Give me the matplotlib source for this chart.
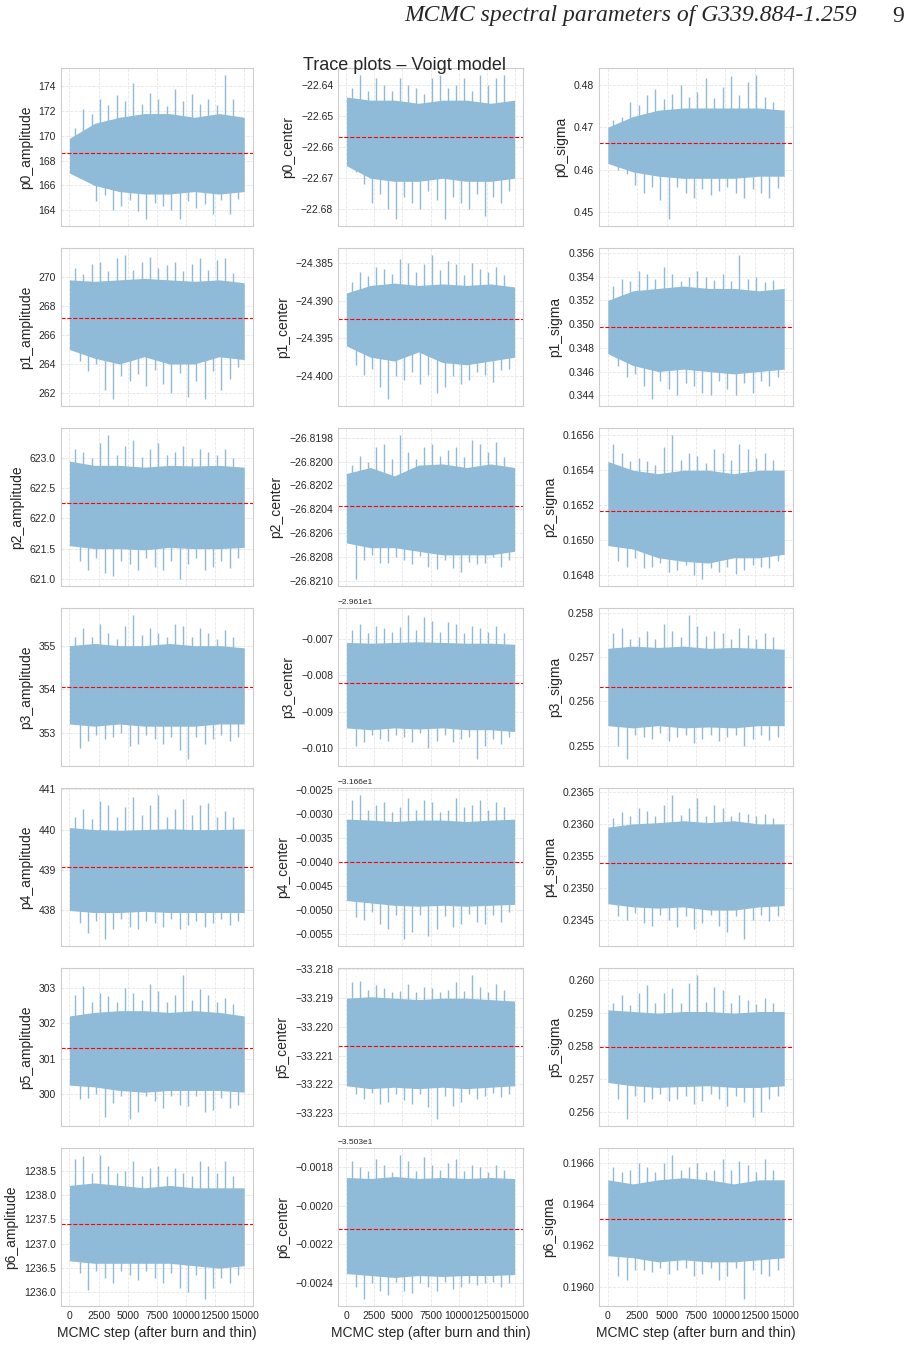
import numpy as np
import matplotlib
matplotlib.use("Agg")
import matplotlib.pyplot as plt
import seaborn as sns

n_steps = 15000
components = ["p0", "p1", "p2", "p3", "p4", "p5", "p6"]
params = ["amplitude", "center", "sigma"]

# mean = dashed line, top/bot = dense part of the chain, up/dn = spikes
p0_amplitude = dict(mean=168.6,
                    top=[169.8, 171.0, 171.5, 171.8, 171.8, 171.5, 171.8, 171.5],
                    bot=[167.0, 166.0, 165.5, 165.3, 165.3, 165.5, 165.3, 165.5],
                    up=[170.6, 172.2, 171.8, 173.0, 172.5, 173.3, 172.8, 174.3, 172.6, 173.5, 173.0, 172.4, 173.8, 172.8, 173.4, 172.6, 173.0, 172.5, 174.9, 173.0],
                    dn=[166.6, 166.5, 164.7, 165.2, 164.0, 164.3, 164.8, 163.9, 163.3, 164.6, 164.3, 164.0, 163.3, 164.7, 164.2, 164.5, 163.7, 164.8, 163.7, 164.9])
p0_center = dict(mean=-22.6569,
                 top=[-22.644, -22.645, -22.645, -22.646, -22.645, -22.645, -22.646, -22.645],
                 bot=[-22.666, -22.670, -22.671, -22.671, -22.670, -22.671, -22.671, -22.670],
                 up=[-22.641, -22.637, -22.642, -22.638, -22.640, -22.642, -22.638, -22.640, -22.641, -22.643, -22.638, -22.637, -22.641, -22.640, -22.638, -22.642, -22.637, -22.640, -22.638, -22.637],
                 dn=[-22.668, -22.672, -22.678, -22.675, -22.680, -22.683, -22.676, -22.678, -22.680, -22.674, -22.677, -22.683, -22.676, -22.678, -22.680, -22.675, -22.682, -22.676, -22.678, -22.674])
p0_sigma = dict(mean=0.4663,
                top=[0.4700, 0.4725, 0.4740, 0.4745, 0.4745, 0.4745, 0.4745, 0.4740],
                bot=[0.4615, 0.4595, 0.4585, 0.4580, 0.4580, 0.4580, 0.4585, 0.4585],
                up=[0.4718, 0.4725, 0.4760, 0.4752, 0.4775, 0.4790, 0.4765, 0.4778, 0.4800, 0.4770, 0.4782, 0.4815, 0.4768, 0.4795, 0.4820, 0.4775, 0.4805, 0.4822, 0.4770, 0.4760],
                dn=[0.4600, 0.4590, 0.4565, 0.4545, 0.4560, 0.4530, 0.4485, 0.4560, 0.4545, 0.4535, 0.4555, 0.4540, 0.4550, 0.4560, 0.4545, 0.4535, 0.4555, 0.4545, 0.4535, 0.4558])

p1_amplitude = dict(mean=267.16,
                    top=[269.8, 269.7, 269.8, 269.9, 269.8, 269.7, 269.8, 269.6],
                    bot=[265.0, 264.4, 264.0, 264.5, 264.0, 264.0, 264.5, 264.3],
                    up=[270.6, 270.2, 270.9, 271.0, 270.4, 271.3, 271.5, 270.5, 271.0, 271.4, 270.6, 270.8, 271.0, 270.4, 270.9, 271.3, 270.5, 271.2, 271.3, 270.3],
                    dn=[264.2, 263.5, 264.0, 262.2, 261.6, 263.2, 262.8, 263.3, 262.5, 263.6, 262.6, 262.0, 263.4, 261.7, 262.8, 261.6, 263.5, 262.2, 263.0, 263.8])
p1_center = dict(mean=-24.3925,
                 top=[-24.3890, -24.3880, -24.3877, -24.3880, -24.3878, -24.3880, -24.3878, -24.3882],
                 bot=[-24.3960, -24.3975, -24.3980, -24.3968, -24.3982, -24.3985, -24.3980, -24.3975],
                 up=[-24.3875, -24.3862, -24.3868, -24.3855, -24.3858, -24.3865, -24.3845, -24.3850, -24.3862, -24.3852, -24.3840, -24.3860, -24.3848, -24.3852, -24.3866, -24.3850, -24.3858, -24.3862, -24.3855, -24.3866],
                 dn=[-24.3985, -24.3998, -24.3990, -24.4015, -24.4030, -24.4000, -24.4005, -24.3995, -24.4010, -24.3998, -24.4022, -24.4015, -24.4000, -24.4010, -24.4005, -24.3995, -24.3998, -24.4008, -24.3992, -24.3990])
p1_sigma = dict(mean=0.34971,
                top=[0.3520, 0.3528, 0.3530, 0.3532, 0.3530, 0.3530, 0.3528, 0.3530],
                bot=[0.3475, 0.3465, 0.3460, 0.3462, 0.3460, 0.3458, 0.3460, 0.3462],
                up=[0.3532, 0.3538, 0.3536, 0.3545, 0.3542, 0.3538, 0.3548, 0.3542, 0.3536, 0.3540, 0.3545, 0.3540, 0.3537, 0.3542, 0.3536, 0.3558, 0.3538, 0.3540, 0.3535, 0.3537],
                dn=[0.3465, 0.3455, 0.3458, 0.3448, 0.3437, 0.3452, 0.3445, 0.3440, 0.3450, 0.3448, 0.3442, 0.3440, 0.3452, 0.3445, 0.3440, 0.3450, 0.3442, 0.3452, 0.3448, 0.3455])

p2_amplitude = dict(mean=622.25,
                    top=[622.95, 622.88, 622.88, 622.85, 622.88, 622.87, 622.88, 622.85],
                    bot=[621.55, 621.50, 621.50, 621.48, 621.52, 621.50, 621.50, 621.52],
                    up=[623.15, 623.10, 623.00, 623.25, 623.38, 623.05, 623.20, 623.30, 623.02, 623.15, 623.25, 623.05, 623.10, 623.20, 623.00, 623.15, 623.10, 623.05, 623.15, 623.00],
                    dn=[621.30, 621.15, 621.35, 621.10, 621.05, 621.30, 621.25, 621.15, 621.35, 621.20, 621.15, 621.30, 621.00, 621.25, 621.35, 621.15, 621.20, 621.30, 621.18, 621.35])
p2_center = dict(mean=-26.82037,
                 top=[-26.82010, -26.82005, -26.82012, -26.82003, -26.82002, -26.82005, -26.82002, -26.82005],
                 bot=[-26.82068, -26.82072, -26.82072, -26.82075, -26.82078, -26.82078, -26.82078, -26.82075],
                 up=[-26.82003, -26.81995, -26.82000, -26.81988, -26.81985, -26.81998, -26.81978, -26.81992, -26.81998, -26.81988, -26.81985, -26.81995, -26.81990, -26.81988, -26.81996, -26.81982, -26.81985, -26.81992, -26.81984, -26.81996],
                 dn=[-26.82098, -26.82082, -26.82078, -26.82085, -26.82085, -26.82080, -26.82082, -26.82086, -26.82079, -26.82088, -26.82090, -26.82082, -26.82089, -26.82092, -26.82084, -26.82086, -26.82085, -26.82080, -26.82088, -26.82082])
p2_sigma = dict(mean=0.16517,
                top=[0.16545, 0.16540, 0.16538, 0.16540, 0.16540, 0.16538, 0.16540, 0.16540],
                bot=[0.16497, 0.16495, 0.16490, 0.16488, 0.16487, 0.16490, 0.16490, 0.16492],
                up=[0.16555, 0.16550, 0.16545, 0.16547, 0.16545, 0.16543, 0.16553, 0.16560, 0.16546, 0.16550, 0.16548, 0.16544, 0.16552, 0.16550, 0.16546, 0.16555, 0.16552, 0.16547, 0.16550, 0.16546],
                dn=[0.16488, 0.16485, 0.16490, 0.16484, 0.16485, 0.16487, 0.16482, 0.16483, 0.16486, 0.16480, 0.16478, 0.16484, 0.16482, 0.16485, 0.16481, 0.16483, 0.16486, 0.16485, 0.16484, 0.16488])

p3_amplitude = dict(mean=354.04,
                    top=[355.0, 355.05, 355.0, 355.0, 355.05, 355.0, 355.0, 354.95],
                    bot=[353.2, 353.15, 353.2, 353.15, 353.15, 353.15, 353.2, 353.2],
                    up=[355.2, 355.4, 355.2, 355.5, 355.3, 355.15, 355.45, 355.7, 355.25, 355.4, 355.3, 355.2, 355.5, 355.45, 355.2, 355.4, 355.3, 355.15, 355.35, 355.2],
                    dn=[352.65, 352.8, 352.95, 352.85, 352.9, 353.0, 352.7, 352.75, 352.95, 352.85, 352.75, 352.9, 352.6, 352.4, 352.9, 352.75, 352.85, 352.95, 352.8, 352.9])
p3_center = dict(mean=-29.61821,
                 top=[-29.61710, -29.61712, -29.61710, -29.61708, -29.61710, -29.61712, -29.61712, -29.61715],
                 bot=[-29.61945, -29.61950, -29.61945, -29.61948, -29.61945, -29.61950, -29.61950, -29.61955],
                 up=[-29.61675, -29.61660, -29.61685, -29.61665, -29.61670, -29.61680, -29.61668, -29.61635, -29.61675, -29.61640, -29.61650, -29.61680, -29.61655, -29.61660, -29.61685, -29.61665, -29.61670, -29.61680, -29.61665, -29.61685],
                 dn=[-29.61995, -29.61985, -29.61965, -29.61975, -29.61980, -29.61965, -29.61970, -29.61985, -29.61960, -29.62000, -29.61980, -29.61965, -29.61985, -29.61975, -29.61970, -29.62030, -29.61995, -29.61975, -29.61990, -29.61970])
p3_sigma = dict(mean=0.25632,
                top=[0.25720, 0.25725, 0.25722, 0.25725, 0.25720, 0.25722, 0.25720, 0.25718],
                bot=[0.25545, 0.25540, 0.25545, 0.25540, 0.25542, 0.25540, 0.25545, 0.25545],
                up=[0.25755, 0.25765, 0.25740, 0.25745, 0.25760, 0.25742, 0.25775, 0.25760, 0.25745, 0.25795, 0.25770, 0.25748, 0.25760, 0.25755, 0.25742, 0.25765, 0.25750, 0.25740, 0.25755, 0.25745],
                dn=[0.25500, 0.25470, 0.25525, 0.25520, 0.25515, 0.25528, 0.25510, 0.25520, 0.25525, 0.25505, 0.25515, 0.25525, 0.25510, 0.25520, 0.25525, 0.25500, 0.25515, 0.25525, 0.25512, 0.25520])

p4_amplitude = dict(mean=439.07,
                    top=[440.05, 440.0, 439.98, 440.0, 440.02, 440.0, 440.0, 440.02],
                    bot=[438.0, 437.95, 437.95, 437.98, 437.95, 437.95, 437.95, 437.95],
                    up=[440.3, 440.5, 440.25, 440.7, 440.6, 440.3, 440.55, 440.8, 440.35, 440.6, 440.85, 440.3, 440.5, 440.75, 440.35, 440.6, 440.65, 440.3, 440.45, 440.3],
                    dn=[437.7, 437.45, 437.75, 437.3, 437.55, 437.8, 437.6, 437.55, 437.75, 437.7, 437.6, 437.8, 437.55, 437.65, 437.75, 437.6, 437.7, 437.8, 437.65, 437.75])
p4_center = dict(mean=-31.66399,
                 top=[-31.66310, -31.66312, -31.66315, -31.66312, -31.66312, -31.66315, -31.66312, -31.66310],
                 bot=[-31.66480, -31.66485, -31.66490, -31.66492, -31.66490, -31.66492, -31.66490, -31.66488],
                 up=[-31.66270, -31.66260, -31.66290, -31.66280, -31.66275, -31.66295, -31.66285, -31.66265, -31.66290, -31.66270, -31.66275, -31.66295, -31.66290, -31.66265, -31.66285, -31.66280, -31.66270, -31.66290, -31.66275, -31.66285],
                 dn=[-31.66515, -31.66520, -31.66505, -31.66530, -31.66540, -31.66510, -31.66560, -31.66545, -31.66510, -31.66555, -31.66540, -31.66512, -31.66535, -31.66530, -31.66508, -31.66525, -31.66530, -31.66510, -31.66525, -31.66505])
p4_sigma = dict(mean=0.23539,
                top=[0.23595, 0.23600, 0.23602, 0.23605, 0.23602, 0.23605, 0.23600, 0.23600],
                bot=[0.23475, 0.23470, 0.23468, 0.23470, 0.23465, 0.23465, 0.23470, 0.23472],
                up=[0.23610, 0.23618, 0.23612, 0.23625, 0.23620, 0.23612, 0.23630, 0.23645, 0.23614, 0.23625, 0.23640, 0.23612, 0.23630, 0.23625, 0.23612, 0.23618, 0.23615, 0.23612, 0.23616, 0.23610],
                dn=[0.23455, 0.23450, 0.23460, 0.23445, 0.23440, 0.23458, 0.23450, 0.23438, 0.23455, 0.23435, 0.23445, 0.23458, 0.23440, 0.23430, 0.23455, 0.23420, 0.23450, 0.23458, 0.23448, 0.23455])

p5_amplitude = dict(mean=301.29,
                    top=[302.2, 302.3, 302.35, 302.35, 302.3, 302.35, 302.3, 302.2],
                    bot=[300.25, 300.2, 300.1, 300.05, 300.1, 300.1, 300.1, 300.05],
                    up=[302.8, 303.05, 302.6, 302.85, 302.75, 302.6, 303.0, 302.85, 302.65, 303.1, 302.9, 302.6, 302.8, 303.35, 302.65, 302.95, 302.8, 302.6, 302.7, 302.55],
                    dn=[299.85, 299.9, 300.0, 299.35, 299.75, 299.95, 299.3, 299.5, 299.95, 299.8, 299.6, 299.95, 299.7, 299.65, 299.95, 299.5, 299.55, 299.9, 299.6, 299.7])
p5_center = dict(mean=-33.22065,
                 top=[-33.21900, -33.21895, -33.21900, -33.21905, -33.21900, -33.21900, -33.21905, -33.21910],
                 bot=[-33.22205, -33.22215, -33.22210, -33.22215, -33.22210, -33.22215, -33.22210, -33.22205],
                 up=[-33.21845, -33.21840, -33.21870, -33.21855, -33.21865, -33.21880, -33.21875, -33.21850, -33.21878, -33.21860, -33.21865, -33.21880, -33.21870, -33.21845, -33.21875, -33.21820, -33.21860, -33.21878, -33.21850, -33.21870],
                 dn=[-33.22235, -33.22250, -33.22230, -33.22270, -33.22260, -33.22235, -33.22255, -33.22270, -33.22232, -33.22280, -33.22320, -33.22240, -33.22275, -33.22260, -33.22235, -33.22250, -33.22240, -33.22230, -33.22245, -33.22235])
p5_sigma = dict(mean=0.25796,
                top=[0.25910, 0.25905, 0.25900, 0.25905, 0.25905, 0.25900, 0.25905, 0.25905],
                bot=[0.25690, 0.25680, 0.25675, 0.25678, 0.25680, 0.25675, 0.25675, 0.25680],
                up=[0.25930, 0.25955, 0.25925, 0.25960, 0.25985, 0.25930, 0.25960, 0.25975, 0.25930, 0.25990, 0.26015, 0.25935, 0.25980, 0.25970, 0.25930, 0.25955, 0.25940, 0.25928, 0.25945, 0.25930],
                dn=[0.25640, 0.25580, 0.25650, 0.25630, 0.25640, 0.25655, 0.25635, 0.25640, 0.25650, 0.25625, 0.25635, 0.25655, 0.25640, 0.25620, 0.25650, 0.25630, 0.25585, 0.25600, 0.25640, 0.25650])

p6_amplitude = dict(mean=1237.41,
                    top=[1238.2, 1238.25, 1238.2, 1238.15, 1238.2, 1238.15, 1238.15, 1238.15],
                    bot=[1236.65, 1236.6, 1236.6, 1236.6, 1236.6, 1236.55, 1236.5, 1236.55],
                    up=[1238.75, 1238.8, 1238.45, 1238.82, 1238.6, 1238.45, 1238.5, 1238.7, 1238.4, 1238.55, 1238.6, 1238.4, 1238.55, 1238.45, 1238.4, 1238.7, 1238.6, 1238.45, 1238.7, 1238.4],
                    dn=[1236.4, 1236.05, 1236.45, 1236.3, 1236.2, 1236.45, 1236.35, 1236.25, 1236.45, 1236.3, 1236.2, 1236.4, 1236.1, 1236.0, 1236.35, 1235.87, 1236.1, 1236.3, 1236.2, 1236.35])
p6_center = dict(mean=-35.032118,
                 top=[-35.031855, -35.031860, -35.031850, -35.031860, -35.031855, -35.031860, -35.031855, -35.031860],
                 bot=[-35.032350, -35.032360, -35.032370, -35.032360, -35.032365, -35.032360, -35.032360, -35.032355],
                 up=[-35.031770, -35.031800, -35.031820, -35.031760, -35.031790, -35.031825, -35.031740, -35.031770, -35.031820, -35.031750, -35.031790, -35.031815, -35.031780, -35.031760, -35.031820, -35.031790, -35.031800, -35.031825, -35.031790, -35.031815],
                 dn=[-35.032420, -35.032480, -35.032400, -35.032440, -35.032460, -35.032395, -35.032440, -35.032450, -35.032400, -35.032420, -35.032440, -35.032395, -35.032430, -35.032420, -35.032400, -35.032410, -35.032400, -35.032395, -35.032420, -35.032400])
p6_sigma = dict(mean=0.19633,
                top=[0.19652, 0.19650, 0.19652, 0.19653, 0.19652, 0.19650, 0.19652, 0.19652],
                bot=[0.19615, 0.19614, 0.19612, 0.19613, 0.19612, 0.19612, 0.19613, 0.19614],
                up=[0.19658, 0.19656, 0.19657, 0.19660, 0.19658, 0.19656, 0.19660, 0.19664, 0.19657, 0.19658, 0.19660, 0.19656, 0.19657, 0.19662, 0.19657, 0.19661, 0.19659, 0.19656, 0.19662, 0.19657],
                dn=[0.19605, 0.19603, 0.19608, 0.19608, 0.19607, 0.19609, 0.19606, 0.19608, 0.19609, 0.19605, 0.19606, 0.19609, 0.19603, 0.19605, 0.19609, 0.19594, 0.19608, 0.19606, 0.19605, 0.19608])

BAND = "#8fbbd9"  # tab:blue at alpha 0.5 on white
FIG_W, FIG_H = 910, 1346
COL_X = [(60.7, 253), (338, 523), (599, 793)]  # axes left/right, pixels
ROW_TOP0, ROW_H, ROW_PITCH = 68, 158, 180


def draw_trace(ax, tr):
    """Dense part of the chain as a band, excursions as thin spikes"""
    xs = np.linspace(0, n_steps, len(tr["top"]))
    ax.fill_between(xs, tr["bot"], tr["top"], color=BAND, lw=0)
    step = n_steps / (len(tr["up"]) + 1)
    xu = np.arange(1, len(tr["up"]) + 1) * step - step / 3
    xd = np.arange(1, len(tr["dn"]) + 1) * step + step / 4
    ax.vlines(xu, tr["mean"], tr["up"], color=BAND, lw=1.0)
    ax.vlines(xd, tr["dn"], tr["mean"], color=BAND, lw=1.0)
    ax.axhline(tr["mean"], color="red", ls="--", lw=0.8)


def main():
    sns.set_style("whitegrid")
    plt.rcParams["font.family"] = ["Liberation Sans", "DejaVu Sans"]
    plt.rcParams["axes.edgecolor"] = "#cccccc"
    plt.rcParams["grid.color"] = "#e6e6e6"
    plt.rcParams["grid.linestyle"] = "--"
    plt.rcParams["grid.linewidth"] = 0.6

    fig = plt.figure(figsize=(FIG_W / 100, FIG_H / 100), dpi=100)
    g = globals()
    first = None
    for i, comp in enumerate(components):
        top = ROW_TOP0 + i * ROW_PITCH
        for j, par in enumerate(params):
            x0, x1 = COL_X[j]
            rect = [x0 / FIG_W, 1 - (top + ROW_H) / FIG_H,
                    (x1 - x0) / FIG_W, ROW_H / FIG_H]
            ax = fig.add_axes(rect, sharex=first)
            first = first or ax
            draw_trace(ax, g[f"{comp}_{par}"])
            ax.set_ylabel(f"{comp}_{par}", fontsize=10)
            ax.tick_params(labelsize=7.5, colors="#262626", length=0)
            ax.yaxis.get_offset_text().set_fontsize(6)
            ax.set_xticks(np.arange(0, n_steps + 1, 2500))
            if i < len(components) - 1:
                ax.tick_params(labelbottom=False)
            else:
                ax.set_xlabel("MCMC step (after burn and thin)", fontsize=10)

    fig.text(0.445, 1 - 65 / FIG_H, "Trace plots \u2013 Voigt model", ha="center",
             va="center", fontsize=13)
    fig.text(0.942, 1 - 16 / FIG_H, "MCMC spectral parameters of G339.884-1.259",
             ha="right", va="center", fontsize=17, style="italic",
             family="Liberation Serif")
    fig.text(0.993, 1 - 16 / FIG_H, "9", ha="right", va="center", fontsize=17,
             family="Liberation Serif")
    fig.savefig("out.png", dpi=100)


if __name__ == "__main__":
    main()
